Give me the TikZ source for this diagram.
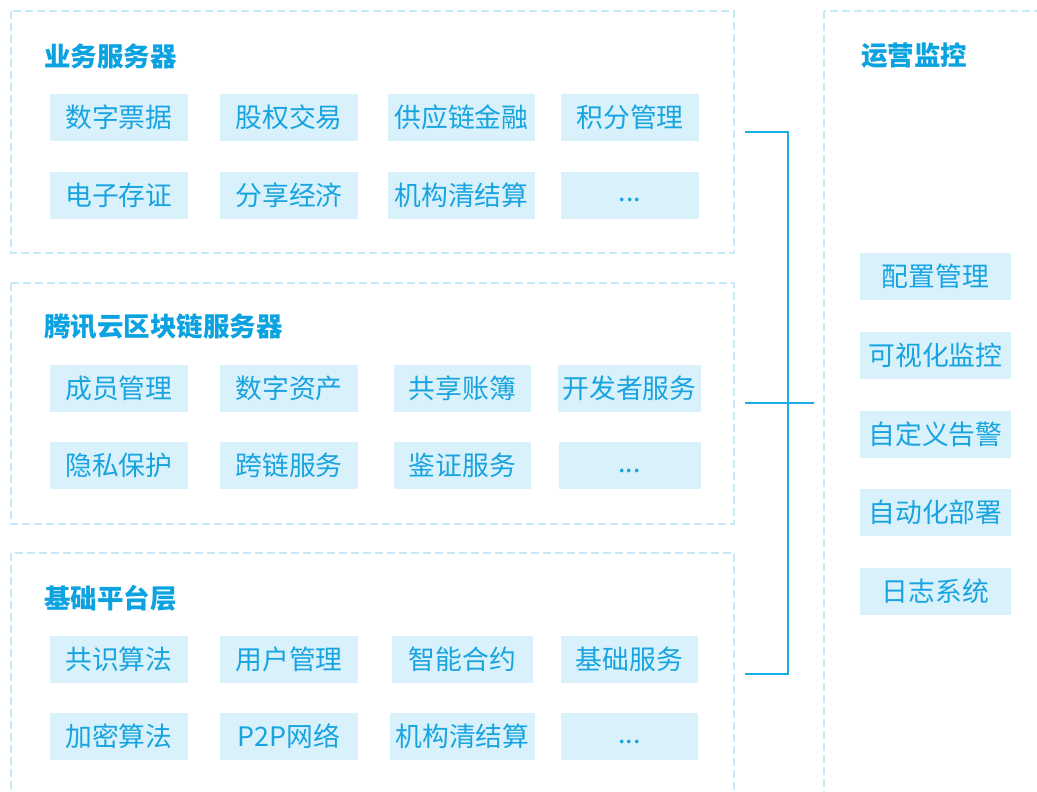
\documentclass[tikz,border=0pt]{standalone}
\usepackage{fontspec}
\newfontfamily\cjk{Noto Sans CJK SC}
\definecolor{boxfill}{HTML}{D9F1FB}
\definecolor{txt}{HTML}{18A4E0}
\definecolor{ttl}{HTML}{0AA2E0}
\definecolor{dashc}{HTML}{C6E9F7}
\definecolor{linec}{HTML}{1AAEE6}
\newcommand{\moredots}{\smash{\raisebox{-6.5pt}{...}}}
\tikzset{
  panel/.style={draw=dashc, line width=1.5pt, dash pattern=on 8pt off 4pt},
  item/.style={fill=boxfill, inner sep=0pt, minimum height=47pt, text=txt, font=\cjk\fontsize{26.8}{30}\selectfont},
  ttlnode/.style={anchor=west, inner sep=0pt, text=ttl, font=\cjk\bfseries\fontsize{26.5}{30}\selectfont},
  link/.style={draw=linec, line width=1.5pt}
}
\begin{document}
\begin{tikzpicture}[x=1pt,y=-1pt]
\useasboundingbox (0,0) rectangle (1037,792);
\clip (0,0) rectangle (1037,792);
\fill[white] (0,0) rectangle (1037,792);
% panels
\draw[panel] (11,11) rectangle (734,253);
\draw[panel] (11,283) rectangle (734,524);
\draw[panel] (11,553) rectangle (734,820);
\draw[panel] (824,11) rectangle (1060,820);
% titles
\node[ttlnode] (t1) at (44,56) {业务服务器};
\node[ttlnode] (t2) at (44,327) {腾讯云区块链服务器};
\node[ttlnode] (t3) at (44,598) {基础平台层};
\node[ttlnode] (t4) at (861,56) {运营监控};
% panel 1
\node[item, minimum width=138pt] (a1) at (119,117.5) {数字票据};
\node[item, minimum width=138pt] (a2) at (289,117.5) {股权交易};
\node[item, minimum width=147pt] (a3) at (461.5,117.5) {供应链金融};
\node[item, minimum width=138pt] (a4) at (630,117.5) {积分管理};
\node[item, minimum width=138pt] (a5) at (119,195) {电子存证};
\node[item, minimum width=138pt] (a6) at (289,195) {分享经济};
\node[item, minimum width=147pt] (a7) at (461.5,195) {机构清结算};
\node[item, minimum width=138pt] (a8) at (630,195) {\moredots};
% panel 2
\node[item, minimum width=138pt] (b1) at (119,388.5) {成员管理};
\node[item, minimum width=138pt] (b2) at (289,388.5) {数字资产};
\node[item, minimum width=137pt] (b3) at (462.5,388.5) {共享账簿};
\node[item, minimum width=143pt] (b4) at (629.5,388.5) {开发者服务};
\node[item, minimum width=138pt] (b5) at (119,465.5) {隐私保护};
\node[item, minimum width=138pt] (b6) at (289,465.5) {跨链服务};
\node[item, minimum width=137pt] (b7) at (462.5,465.5) {鉴证服务};
\node[item, minimum width=142pt] (b8) at (629.5,465.5) {\moredots};
% panel 3
\node[item, minimum width=138pt] (c1) at (119,659.5) {共识算法};
\node[item, minimum width=138pt] (c2) at (289,659.5) {用户管理};
\node[item, minimum width=141pt] (c3) at (462.5,659.5) {智能合约};
\node[item, minimum width=137pt] (c4) at (629.5,659.5) {基础服务};
\node[item, minimum width=138pt] (c5) at (119,736.5) {加密算法};
\node[item, minimum width=138pt] (c6) at (289,736.5) {P2P网络};
\node[item, minimum width=145pt] (c7) at (462.5,736.5) {机构清结算};
\node[item, minimum width=137pt] (c8) at (629.5,736.5) {\moredots};
% right panel
\node[item, minimum width=151pt] (r1) at (935.5,276.5) {配置管理};
\node[item, minimum width=151pt] (r2) at (935.5,355.5) {可视化监控};
\node[item, minimum width=151pt] (r3) at (935.5,434.5) {自定义告警};
\node[item, minimum width=151pt] (r4) at (935.5,512.5) {自动化部署};
\node[item, minimum width=151pt] (r5) at (935.5,591.5) {日志系统};
% bracket
\coordinate (p1) at (745,132);
\coordinate (p2) at (745,403);
\coordinate (p3) at (745,674);
\coordinate (q) at (814,403);
\draw[link] (p1) -- (788,132) -- (788,674) -- (p3);
\draw[link] (p2) -- (q);
\end{tikzpicture}
\end{document}
